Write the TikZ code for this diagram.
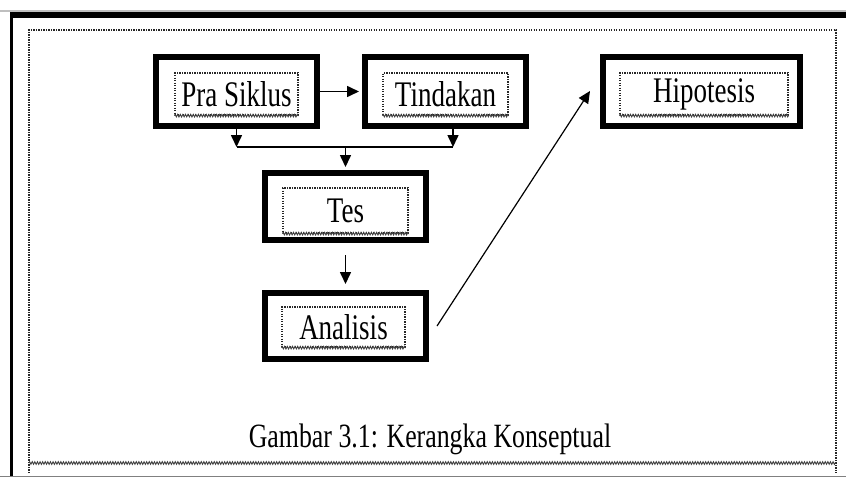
\documentclass[tikz,border=0pt]{standalone}
\usepackage{fontspec}
\setmainfont{Liberation Serif}
\usetikzlibrary{arrows.meta,decorations.pathmorphing}

\newcommand{\sempit}[1]{\scalebox{0.75}[1]{#1}}

\tikzset{
  kotak/.style={draw=black, line width=6pt, minimum width=161pt, minimum height=69pt, inner sep=0pt},
  titik/.style={draw=black!85, line width=1.2pt, dash pattern=on 1.2pt off 1.3pt},
  bingkai/.style={titik, minimum height=42pt, inner sep=0pt, font=\fontsize{36}{40}\selectfont},
  panah/.style={line width=1.6pt, -{Triangle[length=12pt,width=11pt]}},
  gelombang/.style={draw=black!75, line width=0.9pt, decorate,
    decoration={zigzag, amplitude=1.3pt, segment length=2.6pt}}
}

\begin{document}
\begin{tikzpicture}[x=1pt, y=-1pt]
  \useasboundingbox (0,0) rectangle (846,477);
  % tepi halaman
  \draw [black!25, line width=2pt] (0,11) -- (846,11);
  \draw [black, line width=6pt] (10,15) -- (846,15);
  \draw [black, line width=3.5pt] (11.5,12) -- (11.5,477);
  \draw [black!50, line width=1.5pt] (0,476.5) -- (846,476.5);
  % bingkai luar
  \draw [titik] (29,473) -- (29,30) -- (836,30) -- (836,473);
  \draw [gelombang] (29,463) -- (836,463);

  % kotak
  \node [kotak] (pra) at (236.5,91.5) {};
  \node [kotak] (tindakan) at (445.5,91.5) {};
  \node [kotak, minimum width=197pt] (hipotesis) at (701.5,91) {};
  \node [kotak, minimum height=67pt] (tes) at (345.5,206.5) {};
  \node [kotak, minimum height=66pt] (analisis) at (345.5,326) {};

  % teks dalam kotak
  \node [bingkai, minimum width=123pt] (tpra) at (236.5,94) {\sempit{Pra Siklus}};
  \node [bingkai, minimum width=125pt] (ttindakan) at (445.5,94) {\sempit{Tindakan}};
  \node [bingkai, minimum width=168pt] (thipotesis) at (704,94) {\sempit{Hipotesis}};
  \node [bingkai, minimum width=125pt, minimum height=45pt] (ttes) at (345.5,210.5) {\sempit{Tes}};
  \node [bingkai, minimum width=123pt, minimum height=40pt] (tanalisis) at (343.5,327) {\sempit{Analisis}};
  \draw [gelombang] (tpra.south west) -- (tpra.south east);
  \draw [gelombang] (ttindakan.south west) -- (ttindakan.south east);
  \draw [gelombang] (thipotesis.south west) -- (thipotesis.south east);
  \draw [gelombang] (ttes.south west) -- (ttes.south east);
  \draw [gelombang] (tanalisis.south west) -- (tanalisis.south east);

  % panah
  \coordinate (simpang) at (345.5,147);
  \coordinate (ujungkanan) at (453,147);
  \draw [panah, shorten >=3pt] (pra.east) -- (tindakan.west);
  \draw [panah] (pra.south) -- (pra.south |- simpang);
  \draw [panah] (tindakan.south -| ujungkanan) -- (ujungkanan);
  \draw [line width=1.6pt] (pra.south |- simpang) -- (ujungkanan);
  \draw [panah, shorten >=3pt] (simpang) -- (tes.north);
  \draw [panah, shorten <=12pt, shorten >=6pt] (tes.south) -- (analisis.north);
  \draw [panah, line width=1.2pt] ([xshift=8pt]analisis.east) -- ([xshift=-10pt]hipotesis.west);

  % judul gambar
  \node [anchor=base, font=\fontsize{34}{38}\selectfont] (judul) at (430,447)
    {\scalebox{0.76}[1]{Gambar 3.1: Kerangka Konseptual}};
\end{tikzpicture}
\end{document}
